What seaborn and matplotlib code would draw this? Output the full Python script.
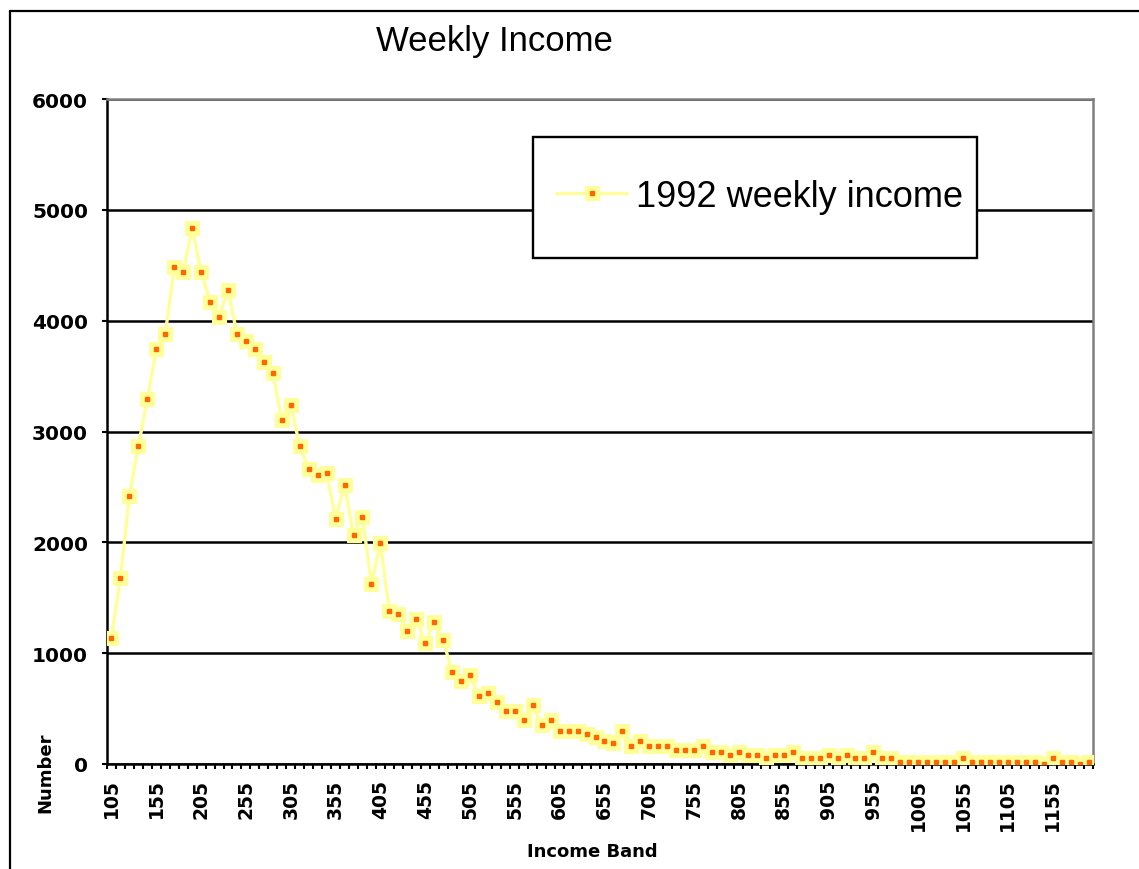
import numpy as np
import pandas as pd
import matplotlib
matplotlib.use("Agg")
import matplotlib.pyplot as plt
import seaborn as sns
from matplotlib.lines import Line2D
from matplotlib.patches import Rectangle
from matplotlib.legend_handler import HandlerTuple

# Income bands (category labels) and counts
bands = list(range(105, 1200, 10))
numbers = [1140, 1680, 2420, 2870, 3290, 3740, 3880, 4480, 4440, 4840,
           4440, 4170, 4030, 4280, 3880, 3820, 3740, 3630, 3530, 3100,
           3240, 2870, 2660, 2610, 2630, 2210, 2520, 2070, 2230, 1620,
           1990, 1380, 1350, 1200, 1310, 1090, 1280, 1120, 830, 750,
           800, 610, 640, 560, 480, 480, 400, 530, 350, 400,
           300, 300, 300, 270, 240, 210, 190, 300, 160, 210,
           160, 160, 160, 130, 130, 130, 160, 110, 110, 80,
           110, 80, 80, 50, 80, 80, 110, 50, 50, 50,
           80, 50, 80, 50, 50, 110, 50, 50, 20, 20,
           20, 20, 20, 20, 20, 50, 20, 20, 20, 20,
           20, 20, 20, 20, 0, 50, 20, 20, 0, 20]
tick_bands = bands[::5]
y_ticks = [0, 1000, 2000, 3000, 4000, 5000, 6000]
series_name = "1992 weekly income"

df = pd.DataFrame({"band": bands, "number": numbers})

pale = "#FFFF99"
orange = "#FF6600"

sns.set_style("white")
plt.rcParams["font.family"] = ["DejaVu Sans"]
plt.rcParams["text.color"] = "black"
plt.rcParams["xtick.color"] = "black"
plt.rcParams["ytick.color"] = "black"
plt.rcParams["axes.labelcolor"] = "black"

W, H = 1139, 870
fig = plt.figure(figsize=(W / 100, H / 100), dpi=100)
ax = fig.add_axes([107 / W, 1 - 765 / H, 986 / W, 665 / H])

# line with big pale square markers, then small orange centres
sns.lineplot(data=df, x="band", y="number", ax=ax, color=pale, lw=2.4,
             marker="s", markersize=10.5, markerfacecolor=pale,
             markeredgecolor=pale, legend=False, zorder=4)
ax.plot(df["band"], df["number"], ls="none", marker="s", ms=2.3,
        color=orange, zorder=5)
line, dots = ax.lines[0], ax.lines[1]

ax.set_xlim(100, 1200)
ax.set_ylim(0, 6000)
ax.set_xlabel("")
ax.set_ylabel("")

# category boundary ticks, labels every 5th band
ax.set_xticks(range(100, 1201, 10))
ax.set_xticklabels([])
ax.set_xticks(tick_bands, [str(b) for b in tick_bands], minor=True)
ax.tick_params(axis="x", which="major", direction="out", length=3.6,
               width=1.5, color="black", bottom=True)
ax.tick_params(axis="x", which="minor", length=0, pad=10.5, rotation=90,
               labelsize=13.5, labelcolor="black")
for t in ax.get_xticklabels(minor=True):
    t.set_fontweight("bold")

ax.set_yticks(y_ticks)
ax.tick_params(axis="y", direction="out", length=3.6, width=1.5,
               color="black", left=True, pad=10, labelsize=14.5,
               labelcolor="black")
for t in ax.get_yticklabels():
    t.set_fontweight("bold")

ax.yaxis.grid(True, color="black", lw=1.8)
ax.xaxis.grid(False)

for s in ["left", "bottom"]:
    ax.spines[s].set_color("black")
    ax.spines[s].set_linewidth(1.8)
for s in ["top", "right"]:
    ax.spines[s].set_color("#808080")
    ax.spines[s].set_linewidth(1.8)

# legend box
ax.add_patch(Rectangle((0.432, 0.761), 0.4503, 0.182, transform=ax.transAxes,
                       facecolor="white", edgecolor="black", lw=1.7, zorder=6))
leg = ax.legend(handles=[(line, dots)], labels=[series_name],
                handler_map={tuple: HandlerTuple(ndivide=1)},
                loc="center left", bbox_to_anchor=(0.4554, 0.854),
                frameon=False, borderpad=0, borderaxespad=0,
                handlelength=1.97, handletextpad=0.25,
                prop={"family": "Liberation Sans", "size": 26})
leg.set_zorder(7)
for t in leg.get_texts():
    t.set_color("black")

fig.text(494 / W, 1 - 42 / H, "Weekly Income", family="Liberation Sans",
         fontsize=25, ha="center", va="center", color="black")
fig.text(45 / W, 1 - 773 / H, "Number", rotation=90, fontsize=13,
         fontweight="bold", ha="center", va="center", color="black")
fig.text(592 / W, 1 - 852 / H, "Income Band", fontsize=13,
         fontweight="bold", ha="center", va="center", color="black")

# outer chart-area border (cut off at right and bottom)
fig.add_artist(Line2D([10 / W, 10 / W], [0, 1 - 12 / H], color="black", lw=1.6))
fig.add_artist(Line2D([10 / W, 1], [1 - 12 / H, 1 - 12 / H], color="black", lw=1.6))

fig.savefig("out.png", dpi=100)
